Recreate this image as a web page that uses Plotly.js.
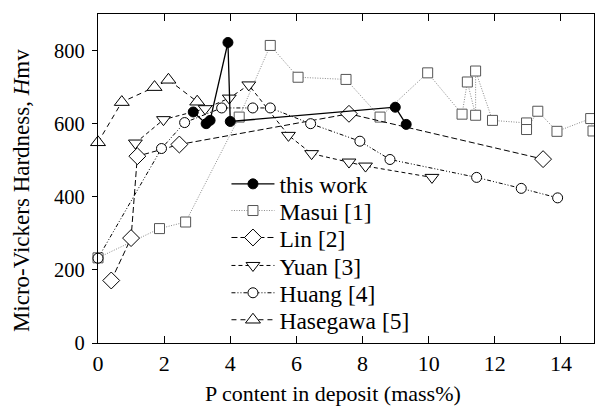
<!DOCTYPE html>
<html>
<head>
<meta charset="utf-8">
<script src="https://cdn.plot.ly/plotly-3.0.1.min.js"></script>
<style>html,body{margin:0;padding:0;background:#fff;}#chart{width:595px;height:412px;}</style>
</head>
<body>
<div id="chart"></div>
<script>
// Data
var thisX = [2.88, 3.27, 3.39, 3.93, 4.0, 8.99, 9.32];
var thisY = [632, 600, 609, 822, 606, 645, 598];

var masuiX = [0, 1.86, 2.65, 4.27, 5.21, 6.05, 7.5, 8.53, 9.97, 11.01, 11.17, 11.42, 11.42, 11.93, 12.96, 12.96, 13.3, 13.88, 14.9, 14.97];
var masuiY = [233, 313, 331, 618, 814, 727, 721, 618, 739, 626, 714, 623, 744, 609, 602, 584, 634, 579, 614, 580];

var linX = [0.4, 1.0, 1.19, 2.46, 7.59, 13.46];
var linY = [171, 287, 511, 543, 627, 503];

var yuanX = [1.13, 1.98, 3.24, 3.97, 4.56, 5.76, 6.46, 7.59, 8.09, 10.1];
var yuanY = [547, 611, 641, 670, 706, 568, 518, 495, 484, 453];

var huangX = [0, 1.92, 2.62, 3.74, 4.68, 5.21, 6.43, 7.92, 8.83, 11.45, 12.8, 13.9];
var huangY = [232, 532, 603, 643, 643, 643, 600, 552, 502, 453, 423, 397];

var hasegawaX = [0, 0.72, 1.71, 2.13, 3.0];
var hasegawaY = [549, 659, 700, 720, 660];

var seriesNames = ['this work', 'Masui [1]', 'Lin [2]', 'Yuan [3]', 'Huang [4]', 'Hasegawa [5]'];
var xTicks = [0, 2, 4, 6, 8, 10, 12, 14];
var yTicks = [0, 200, 400, 600, 800];

var FONT = 'Liberation Serif, Times New Roman, serif';

function tr(x, y, name, sym, size, lineColor, dash, width, mColor, mLine, leg) {
  return {
    x: x, y: y, name: name, type: 'scatter', mode: 'lines+markers', cliponaxis: false,
    legend: leg,
    line: {color: lineColor, dash: dash, width: width},
    marker: {symbol: sym, size: size, color: mColor, line: {color: mLine, width: 1}}
  };
}

var traces = [
  tr(masuiX, masuiY, seriesNames[1], 'square', 10, '#8a8a8a', '1px,1.5px', 1, '#fff', '#555', 'legend2'),
  tr(linX, linY, seriesNames[2], 'diamond', 13, '#000', '6px,3px', 1, '#fff', '#000', 'legend3'),
  tr(yuanX, yuanY, seriesNames[3], 'triangle-down', 12, '#000', '4px,3px', 1, '#fff', '#000', 'legend4'),
  tr(huangX, huangY, seriesNames[4], 'circle', 10, '#000', '4px,2px,1px,2px,1px,2px', 1, '#fff', '#000', 'legend5'),
  tr(hasegawaX, hasegawaY, seriesNames[5], 'triangle-up', 13, '#000', '5px,4px', 1, '#fff', '#000', 'legend6'),
  tr(thisX, thisY, seriesNames[0], 'circle', 10, '#000', 'solid', 1.3, '#000', '#000', 'legend')
];

function leg(yc) {
  return {x: 0.259, y: yc, xanchor: 'left', yanchor: 'middle', bgcolor: 'rgba(0,0,0,0)',
          font: {family: FONT, size: 23.5, color: '#000'}, itemwidth: 43, borderwidth: 0};
}

var layout = {
  width: 595, height: 412,
  margin: {l: 98, r: 1, t: 14, b: 69},
  paper_bgcolor: '#fff', plot_bgcolor: '#fff',
  font: {family: FONT, size: 20, color: '#000'},
  showlegend: true,
  legend: leg(0.483), legend2: leg(0.402), legend3: leg(0.320),
  legend4: leg(0.235), legend5: leg(0.152), legend6: leg(0.070),
  xaxis: {
    range: [0, 15], tickvals: xTicks, ticktext: xTicks.map(String),
    showgrid: false, zeroline: false, showline: true, linecolor: '#000', linewidth: 1.2,
    mirror: 'ticks', ticks: 'inside', ticklen: 7, tickcolor: '#000', tickwidth: 1,
    tickfont: {family: FONT, size: 22, color: '#000'}
  },
  yaxis: {
    range: [0, 900], tickvals: yTicks, ticktext: yTicks.map(String),
    showgrid: false, zeroline: false, showline: true, linecolor: '#000', linewidth: 1.2,
    mirror: true, ticks: 'outside', ticklen: 5, tickcolor: '#000', tickwidth: 1,
    ticklabelstandoff: 3,
    tickfont: {family: FONT, size: 20.5, color: '#000'}
  },
  yaxis2: {
    overlaying: 'y', matches: 'y', range: [0, 900], tickvals: yTicks,
    showticklabels: false, showgrid: false, zeroline: false, showline: false,
    ticks: 'inside', ticklen: 7, tickcolor: '#000', tickwidth: 1, mirror: 'ticks'
  },
  annotations: [
    {text: 'Micro-Vickers Hardness, <i>H</i>mv', xref: 'paper', yref: 'paper',
     x: -0.155, y: 0.462, xanchor: 'center', yanchor: 'middle', textangle: -90, showarrow: false,
     font: {family: FONT, size: 23, color: '#000'}},
    {text: 'P content in deposit (mass%)', xref: 'paper', yref: 'paper',
     x: 0.473, y: -0.152, xanchor: 'center', yanchor: 'middle', showarrow: false,
     font: {family: FONT, size: 22, color: '#000'}}
  ]
};

Plotly.newPlot('chart', traces, layout, {displayModeBar: false, staticPlot: true});
</script>
</body>
</html>
